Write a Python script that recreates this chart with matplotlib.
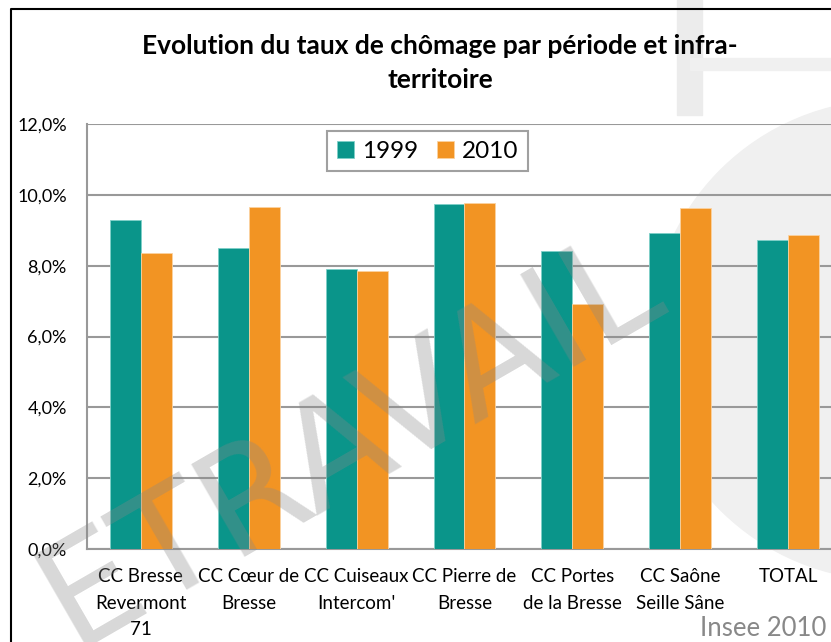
import matplotlib
matplotlib.use("Agg")
import matplotlib.pyplot as plt
import numpy as np
from matplotlib.patches import Circle, Rectangle
from matplotlib.ticker import FuncFormatter

categories = ["CC Bresse\nRevermont\n71", "CC Cœur de\nBresse", "CC Cuiseaux\nIntercom'",
              "CC Pierre de\nBresse", "CC Portes\nde la Bresse", "CC Saône\nSeille Sâne", "TOTAL"]
v1999 = [9.30, 8.50, 7.91, 9.75, 8.42, 8.93, 8.73]
v2010 = [8.35, 9.66, 7.86, 9.77, 6.91, 9.64, 8.88]
series_names = ["1999", "2010"]
title = "Evolution du taux de chômage par période et infra-\nterritoire"

plt.rcParams['font.family'] = ['Lato', 'DejaVu Sans']

W, H = 831, 642
fig = plt.figure(figsize=(W/100, H/100), dpi=100)

# background faint logo shapes
bg = fig.add_axes([0, 0, 1, 1], zorder=0)
bg.set_xlim(0, W); bg.set_ylim(H, 0); bg.axis('off')
bg.add_patch(Circle((890, 340), 240, color='#f0f0f0', zorder=0))
bg.add_patch(Rectangle((677, 0), 25, 115, color='#ececec', zorder=0))
bg.add_patch(Rectangle((690, 58), 150, 12, color='#f0f0f0', zorder=0))
# frame
bg.plot([11, 11, W], [H, 9, 9], color='black', lw=1.5, zorder=1)

ax = fig.add_axes([87/W, 1-549/H, (842-87)/W, (549-124)/H], zorder=2)
ax.patch.set_alpha(0)
x = np.arange(len(categories))
bw = 31/108
ax.bar(x - bw/2, v1999, bw, color='#0a958a', edgecolor='#7fd0c8', linewidth=0.6, label=series_names[0], zorder=3)
ax.bar(x + bw/2, v2010, bw, color='#f29423', edgecolor='#fbd2a0', linewidth=0.6, label=series_names[1], zorder=3)
ax.set_xlim(-0.5, len(categories)-0.5)
ax.set_ylim(0, 12)
ax.set_yticks(np.arange(0, 12.1, 2))
ax.yaxis.set_major_formatter(FuncFormatter(lambda v, p: f"{v:.1f}%".replace('.', ',')))
ax.grid(axis='y', color='#999999', lw=1.5, zorder=1)
ax.set_axisbelow(True)
for s in ['top', 'right']:
    ax.spines[s].set_visible(False)
ax.spines['left'].set_color('#999999'); ax.spines['left'].set_linewidth(1.5)
ax.spines['bottom'].set_color('#999999'); ax.spines['bottom'].set_linewidth(1.5)
ax.tick_params(axis='y', length=0, labelsize=13, pad=14.5)
ax.tick_params(axis='x', length=0, labelsize=13.5, pad=14)
ax.set_xticks(x)
ax.set_xticklabels(categories, linespacing=1.65)

leg = ax.legend(loc='upper left', bbox_to_anchor=((327-87)/(842-87), 1-(131-124)/(549-124)),
                ncol=2, fontsize=17.5, frameon=True, fancybox=False, handlelength=0.7, handleheight=0.7,
                handletextpad=0.35, columnspacing=0.75, borderpad=0.4, borderaxespad=0)
leg.get_frame().set_edgecolor('#888888'); leg.get_frame().set_linewidth(1.5)

fig.text(440/W, 1-63/H, title, ha='center', va='center', fontsize=19, fontweight='bold', linespacing=1.45)
fig.text(826/W, 1-629/H, "Insee 2010", ha='right', va='center', fontsize=18.5, color='#888888')

# watermark
wm = fig.add_axes([0, 0, 1, 1], zorder=5)
wm.set_xlim(0, W); wm.set_ylim(H, 0); wm.axis('off')
wm.text(350, 440, "ETRAVAIL", ha='center', va='center', fontsize=106, rotation=30,
        color='#888888', alpha=0.33, family='DejaVu Sans')

fig.savefig("out.png", dpi=100)
